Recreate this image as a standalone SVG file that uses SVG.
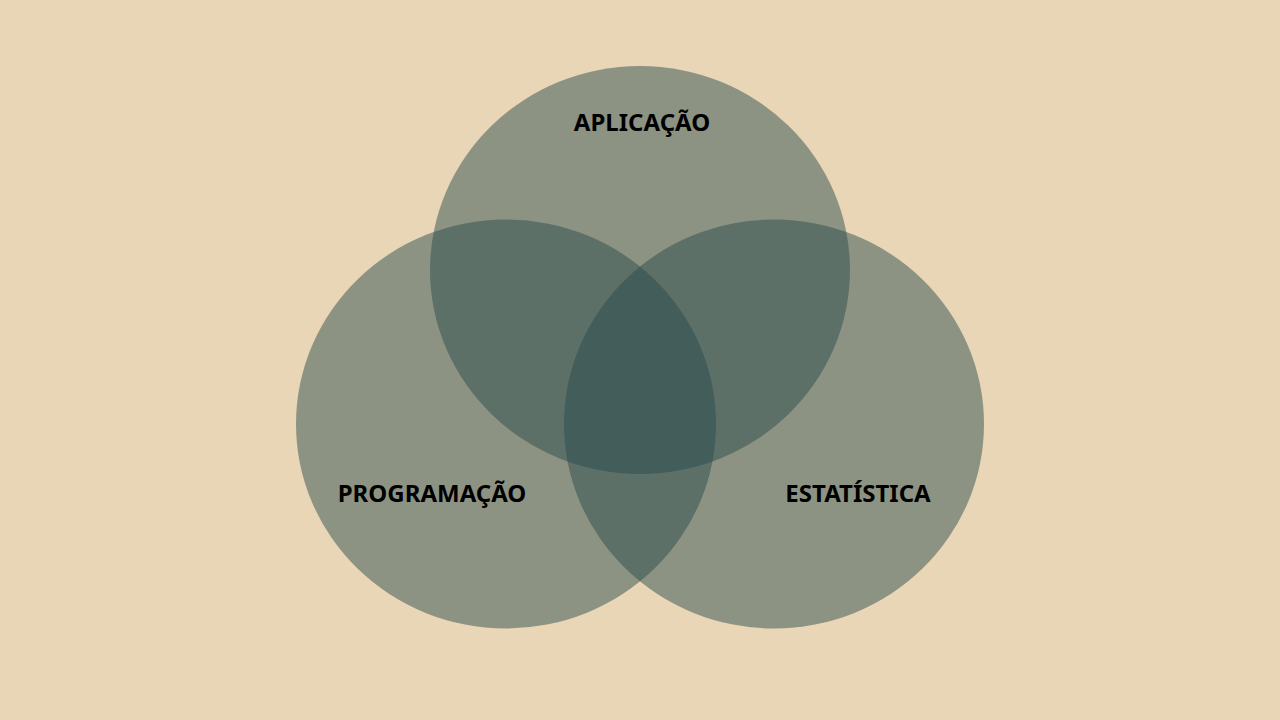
<svg xmlns="http://www.w3.org/2000/svg" width="1280" height="720" viewBox="0 0 1280 720">
<style>
.c{fill:#27484B;fill-opacity:0.47}
.t{font-family:"Noto Sans","Open Sans",sans-serif;font-weight:bold;font-size:24px;fill:#000;text-anchor:middle}
</style>
<rect width="1280" height="720" fill="#E9D6B6"/>
<g id="aplicacao"><ellipse class="c" cx="640" cy="270" rx="210" ry="204"/></g>
<g id="programacao"><ellipse class="c" cx="506" cy="424" rx="210" ry="204.5"/></g>
<g id="estatistica"><ellipse class="c" cx="774" cy="424" rx="210" ry="204.5"/></g>
<g id="labels">
<text class="t" x="642" y="131">APLICAÇÃO</text>
<text class="t" x="432" y="502">PROGRAMAÇÃO</text>
<text class="t" x="858" y="502">ESTATÍSTICA</text>
</g>
</svg>
